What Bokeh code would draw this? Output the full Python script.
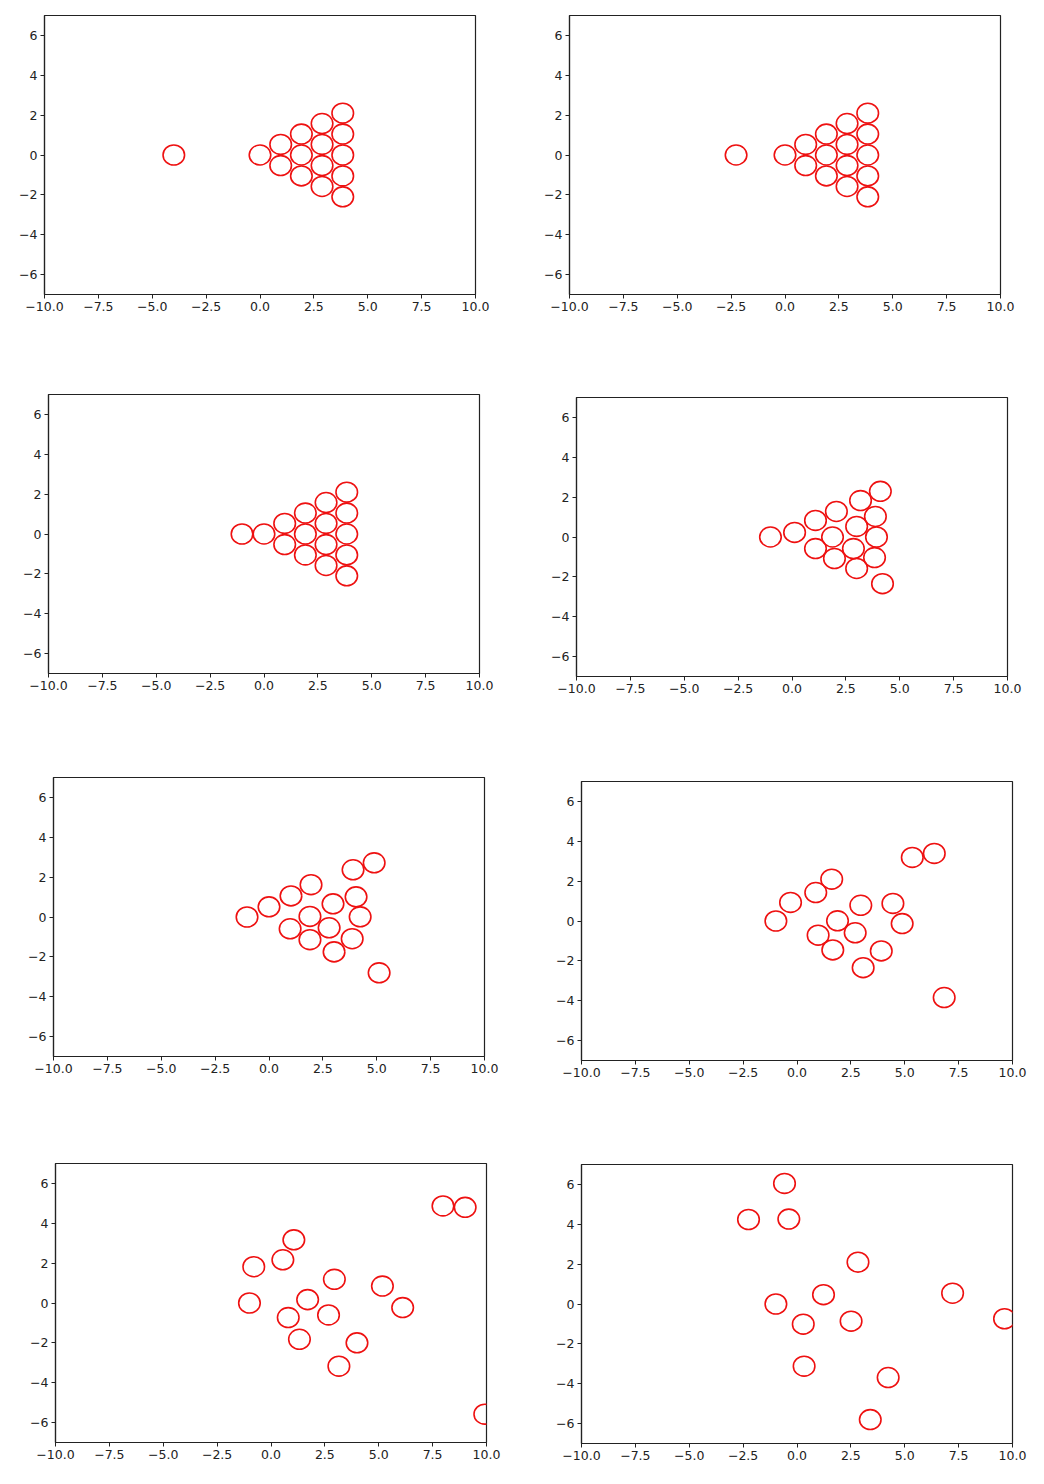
from bokeh.plotting import figure
from bokeh.layouts import column, row
from bokeh.models import FixedTicker
from bokeh.embed import file_html
from bokeh.resources import INLINE

# ---- axis ticks ----
x_ticks = [-10.0, -7.5, -5.0, -2.5, 0.0, 2.5, 5.0, 7.5, 10.0]
x_tick_labels = ["\u221210.0", "\u22127.5", "\u22125.0", "\u22122.5", "0.0", "2.5", "5.0", "7.5", "10.0"]
y_ticks = [-6, -4, -2, 0, 2, 4, 6]
y_tick_labels = ["\u22126", "\u22124", "\u22122", "0", "2", "4", "6"]

# ---- ball positions, one snapshot per panel ----
frame1_x = [-4.0, 0.0, 0.96, 0.96, 1.92, 1.92, 1.92, 2.88, 2.88, 2.88, 2.88, 3.84, 3.84, 3.84, 3.84, 3.84]
frame1_y = [0.0, 0.0, 0.53, -0.53, 1.05, 0.0, -1.05, 1.58, 0.53, -0.53, -1.58, 2.1, 1.05, 0.0, -1.05, -2.1]

frame2_x = [-2.27, 0.0, 0.96, 0.96, 1.92, 1.92, 1.92, 2.88, 2.88, 2.88, 2.88, 3.84, 3.84, 3.84, 3.84, 3.84]
frame2_y = [0.0, 0.0, 0.53, -0.53, 1.05, 0.0, -1.05, 1.58, 0.53, -0.53, -1.58, 2.1, 1.05, 0.0, -1.05, -2.1]

frame3_x = [-1.02, 0.0, 0.96, 0.96, 1.92, 1.92, 1.92, 2.88, 2.88, 2.88, 2.88, 3.84, 3.84, 3.84, 3.84, 3.84]
frame3_y = [0.0, 0.0, 0.53, -0.53, 1.05, 0.0, -1.05, 1.58, 0.53, -0.53, -1.58, 2.1, 1.05, 0.0, -1.05, -2.1]

frame4_x = [-1.0, 0.12, 1.09, 1.09, 2.06, 1.88, 1.97, 3.18, 3.0, 2.85, 3.0, 4.1, 3.87, 3.92, 3.83, 4.2]
frame4_y = [0.0, 0.23, 0.83, -0.58, 1.28, 0.0, -1.08, 1.83, 0.53, -0.58, -1.58, 2.29, 1.03, 0.0, -1.03, -2.34]

frame5_x = [-1.02, 0.0, 1.02, 0.98, 1.95, 1.9, 1.9, 2.97, 2.79, 3.02, 3.9, 4.04, 4.23, 3.86, 4.88, 5.11]
frame5_y = [0.0, 0.51, 1.06, -0.59, 1.62, 0.03, -1.14, 0.66, -0.54, -1.75, 2.37, 1.01, 0.01, -1.09, 2.72, -2.8]

frame6_x = [-0.98, -0.3, 0.87, 1.61, 2.96, 4.45, 4.88, 1.88, 0.98, 2.7, 1.66, 3.91, 3.07, 5.35, 6.37, 6.83]
frame6_y = [0.0, 0.93, 1.43, 2.1, 0.79, 0.88, -0.13, 0.01, -0.71, -0.59, -1.45, -1.5, -2.34, 3.19, 3.39, -3.84]

frame7_x = [7.98, 9.01, 1.06, 0.55, -0.8, 2.94, 5.17, -1.0, 1.7, 6.11, 0.8, 2.67, 1.32, 3.99, 3.15, 9.92]
frame7_y = [4.87, 4.8, 3.17, 2.17, 1.82, 1.19, 0.85, 0.0, 0.17, -0.23, -0.73, -0.6, -1.82, -2.0, -3.17, -5.58]

frame8_x = [-0.58, -2.25, -0.38, 2.83, -0.98, 1.23, 0.29, 2.51, 7.22, 9.63, 0.33, 4.23, 3.4]
frame8_y = [6.05, 4.24, 4.26, 2.1, 0.0, 0.47, -1.01, -0.86, 0.54, -0.74, -3.12, -3.69, -5.8]

ball_diameter = 1.0

FRAME_W, FRAME_H = 431, 279
FONT = "DejaVu Sans"


def panel(xs, ys, left, top, right, bottom):
    p = figure(
        output_backend="svg", toolbar_location=None,
        frame_width=FRAME_W, frame_height=FRAME_H,
        x_range=(-10, 10), y_range=(-7, 7),
        min_border_left=left, min_border_top=top,
        min_border_right=right, min_border_bottom=bottom,
        background_fill_color="white", border_fill_color="white",
    )
    p.grid.visible = False
    p.outline_line_color = "#222222"
    p.outline_line_width = 1.2
    for ax, ticks, labels in ((p.xaxis, x_ticks, x_tick_labels), (p.yaxis, y_ticks, y_tick_labels)):
        ax.ticker = FixedTicker(ticks=ticks)
        ax.major_label_overrides = {t: l for t, l in zip(ticks, labels)}
        ax.major_tick_in = 0
        ax.major_tick_out = 4
        ax.minor_tick_line_color = None
        ax.axis_line_color = "#222222"
        ax.axis_line_width = 1.2
        ax.major_tick_line_color = "#222222"
        ax.major_label_text_font = FONT
        ax.major_label_text_font_size = "12.5px"
        ax.major_label_text_color = "#222222"
        ax.major_label_standoff = 3
    p.ellipse(x=xs, y=ys, width=ball_diameter, height=ball_diameter,
              fill_color=None, line_color="#ee1111", line_width=1.6)
    return p


p1 = panel(frame1_x, frame1_y, 44, 15, 33, 84)
p2 = panel(frame2_x, frame2_y, 61, 15, 28, 84)
p3 = panel(frame3_x, frame3_y, 48, 16, 29, 85)
p4 = panel(frame4_x, frame4_y, 68, 19, 21, 82)
p5 = panel(frame5_x, frame5_y, 53, 19, 24, 82)
p6 = panel(frame6_x, frame6_y, 73, 23, 16, 78)
p7 = panel(frame7_x, frame7_y, 55, 25, 22, 26)
p8 = panel(frame8_x, frame8_y, 73, 26, 16, 25)

layout = column(
    row(column(p1), column(p2)),
    row(column(p3), column(p4)),
    row(column(p5), column(p6)),
    row(column(p7), column(p8)),
)

open("out.html", "w").write(file_html(layout, INLINE))
